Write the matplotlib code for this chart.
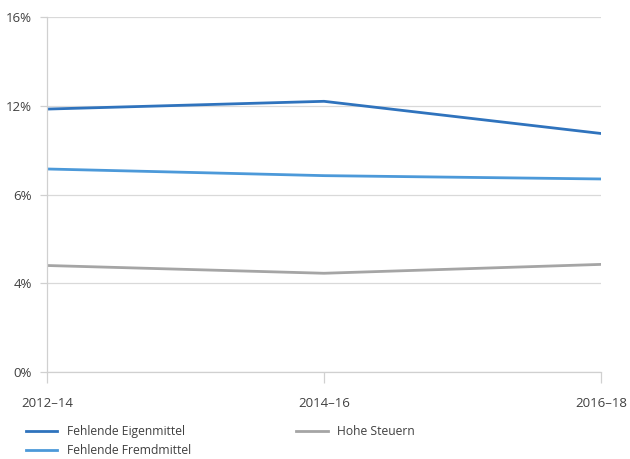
import matplotlib
matplotlib.use("Agg")
import matplotlib.pyplot as plt

periods = ["2012–14", "2014–16", "2016–18"]
eigenmittel = [11.85, 12.2, 10.75]
fremdmittel = [9.15, 8.85, 8.7]
steuern = [4.8, 4.45, 4.85]
ytick_pos = [0, 4, 8, 12, 16]
ytick_labels = ["0%", "4%", "6%", "12%", "16%"]

plt.rcParams['font.family'] = ['Open Sans', 'DejaVu Sans']
text_color = "#404040"

fig = plt.figure(figsize=(6.3, 4.59), dpi=100)
ax = fig.add_axes([47/630, 1-372/459, (601-47)/630, (372-17)/459])

x = list(range(len(periods)))
ax.plot(x, eigenmittel, color="#2F73BD", lw=2.0, label="Fehlende Eigenmittel")
ax.plot(x, fremdmittel, color="#4C99D9", lw=2.0, label="Fehlende Fremdmittel")
ax.plot(x, steuern, color="#A5A5A5", lw=2.0, label="Hohe Steuern")

ax.set_xlim(0, 2)
ax.set_ylim(0, 16)
ax.set_xticks(x)
ax.set_xticklabels(periods)
ax.set_yticks(ytick_pos)
ax.set_yticklabels(ytick_labels)
ax.grid(axis="y", color="#D9D9D9", lw=0.9)
ax.set_axisbelow(True)
for s in ["top", "right"]:
    ax.spines[s].set_visible(False)
for s in ["left", "bottom"]:
    ax.spines[s].set_color("#D0D0D0")
    ax.spines[s].set_linewidth(0.9)
ax.tick_params(axis="both", colors="#D0D0D0", labelcolor=text_color, labelsize=9.5, width=0.9)
ax.tick_params(axis="x", length=8, pad=10)
ax.tick_params(axis="y", length=5, pad=6)

leg = ax.legend(loc="upper left", bbox_to_anchor=(-26/554, -0.135), ncol=2,
                frameon=False, fontsize=8.7, handlelength=2.6, handletextpad=0.8,
                columnspacing=8.7, labelspacing=0.5, borderaxespad=0, labelcolor=text_color)

fig.savefig("out.png", dpi=100)
